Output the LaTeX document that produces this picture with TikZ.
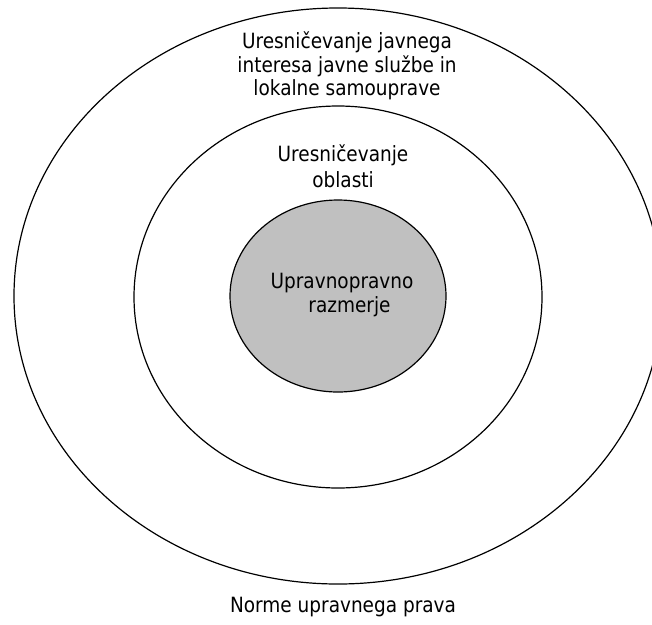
\documentclass[tikz,border=0pt]{standalone}
\usepackage{fontspec}
\setmainfont{DejaVu Sans}[FakeStretch=0.88]
\definecolor{coregray}{RGB}{192,192,192}
\tikzset{every picture/.style={line width=1.2pt}}
\tikzset{
  ring/.style={draw=black},
  lbl/.style={inner sep=0pt, align=center, font=\fontsize{21}{23.5}\selectfont}
}

\begin{document}
\begin{tikzpicture}[x=1pt,y=1pt,yscale=-1,xscale=1]
\useasboundingbox (0,0) rectangle (652,624);

%Outer ellipse
\draw [ring] (338,296) ellipse [x radius=324, y radius=288];
%Middle ellipse
\draw [ring] (338,297) ellipse [x radius=204, y radius=191];
%Inner ellipse
\draw [ring, fill=coregray] (338,296) ellipse [x radius=108, y radius=96];

% Text Node
\node (javni) [lbl] at (347,66) {Uresničevanje javnega\\interesa javne službe in\\lokalne samouprave};
% Text Node
\node (oblast) [lbl, font=\fontsize{21}{26}\selectfont] at (343,166) {Uresničevanje\\oblasti};
% Text Node
\node (razmerje) [lbl] at (342,295) {Upravnopravno\\\hspace*{15pt}razmerje};
% Text Node
\node (norme) [lbl, anchor=base] at (343,612) {Norme upravnega prava};

\end{tikzpicture}
\end{document}
